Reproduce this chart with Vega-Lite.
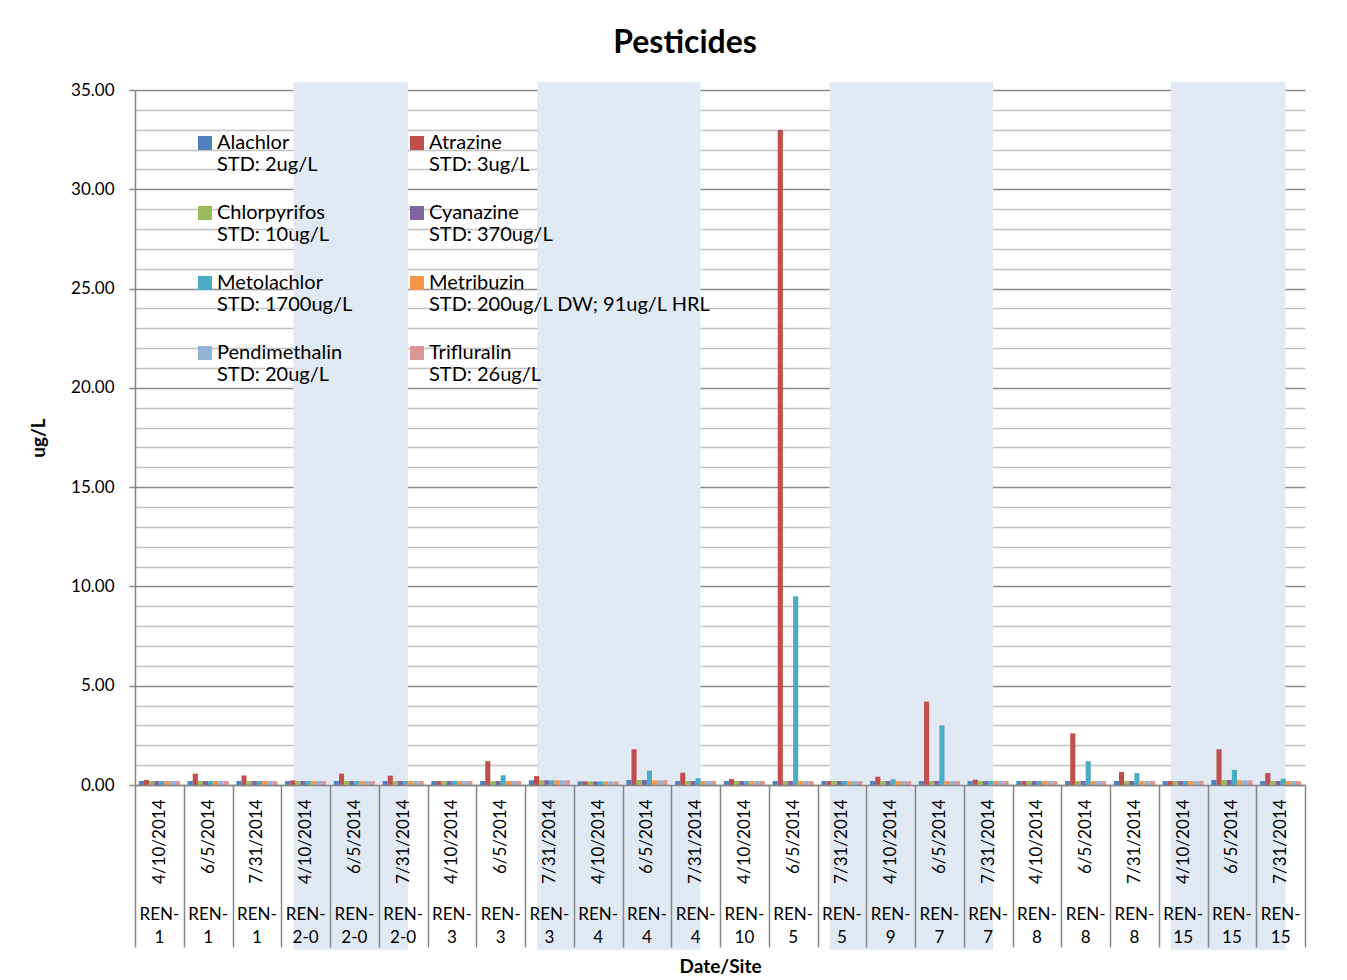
{
  "$schema": "https://vega.github.io/schema/vega-lite/v6.json",
  "width": 1170,
  "height": 695,
  "autosize": {"type": "none"},
  "padding": {"left": 135, "top": 90, "right": 42, "bottom": 195},
  "background": "white",
  "config": {"view": {"stroke": null}},
  "title": {"text": "Pesticides", "font": "Lato", "fontSize": 32, "fontWeight": "bold", "color": "black", "anchor": "middle", "dx": -35, "offset": 21},
  "datasets": {
    "bands": [
      {"s": "4/10/2014|REN-2-0", "e": "7/31/2014|REN-2-0"},
      {"s": "7/31/2014|REN-3", "e": "7/31/2014|REN-4"},
      {"s": "7/31/2014|REN-5", "e": "7/31/2014|REN-7"},
      {"s": "4/10/2014|REN-15", "e": "7/31/2014|REN-15"}
    ],
    "bars": [
      {"c": "4/10/2014|REN-1", "p": "Alachlor", "v": 0.2}, {"c": "4/10/2014|REN-1", "p": "Atrazine", "v": 0.25}, {"c": "4/10/2014|REN-1", "p": "Chlorpyrifos", "v": 0.2}, {"c": "4/10/2014|REN-1", "p": "Cyanazine", "v": 0.2}, {"c": "4/10/2014|REN-1", "p": "Metolachlor", "v": 0.2}, {"c": "4/10/2014|REN-1", "p": "Metribuzin", "v": 0.2}, {"c": "4/10/2014|REN-1", "p": "Pendimethalin", "v": 0.2}, {"c": "4/10/2014|REN-1", "p": "Trifluralin", "v": 0.2},
      {"c": "6/5/2014|REN-1", "p": "Alachlor", "v": 0.2}, {"c": "6/5/2014|REN-1", "p": "Atrazine", "v": 0.57}, {"c": "6/5/2014|REN-1", "p": "Chlorpyrifos", "v": 0.2}, {"c": "6/5/2014|REN-1", "p": "Cyanazine", "v": 0.2}, {"c": "6/5/2014|REN-1", "p": "Metolachlor", "v": 0.2}, {"c": "6/5/2014|REN-1", "p": "Metribuzin", "v": 0.2}, {"c": "6/5/2014|REN-1", "p": "Pendimethalin", "v": 0.2}, {"c": "6/5/2014|REN-1", "p": "Trifluralin", "v": 0.2},
      {"c": "7/31/2014|REN-1", "p": "Alachlor", "v": 0.2}, {"c": "7/31/2014|REN-1", "p": "Atrazine", "v": 0.48}, {"c": "7/31/2014|REN-1", "p": "Chlorpyrifos", "v": 0.2}, {"c": "7/31/2014|REN-1", "p": "Cyanazine", "v": 0.2}, {"c": "7/31/2014|REN-1", "p": "Metolachlor", "v": 0.2}, {"c": "7/31/2014|REN-1", "p": "Metribuzin", "v": 0.2}, {"c": "7/31/2014|REN-1", "p": "Pendimethalin", "v": 0.2}, {"c": "7/31/2014|REN-1", "p": "Trifluralin", "v": 0.2},
      {"c": "4/10/2014|REN-2-0", "p": "Alachlor", "v": 0.2}, {"c": "4/10/2014|REN-2-0", "p": "Atrazine", "v": 0.23}, {"c": "4/10/2014|REN-2-0", "p": "Chlorpyrifos", "v": 0.2}, {"c": "4/10/2014|REN-2-0", "p": "Cyanazine", "v": 0.2}, {"c": "4/10/2014|REN-2-0", "p": "Metolachlor", "v": 0.2}, {"c": "4/10/2014|REN-2-0", "p": "Metribuzin", "v": 0.2}, {"c": "4/10/2014|REN-2-0", "p": "Pendimethalin", "v": 0.2}, {"c": "4/10/2014|REN-2-0", "p": "Trifluralin", "v": 0.2},
      {"c": "6/5/2014|REN-2-0", "p": "Alachlor", "v": 0.2}, {"c": "6/5/2014|REN-2-0", "p": "Atrazine", "v": 0.57}, {"c": "6/5/2014|REN-2-0", "p": "Chlorpyrifos", "v": 0.2}, {"c": "6/5/2014|REN-2-0", "p": "Cyanazine", "v": 0.2}, {"c": "6/5/2014|REN-2-0", "p": "Metolachlor", "v": 0.2}, {"c": "6/5/2014|REN-2-0", "p": "Metribuzin", "v": 0.2}, {"c": "6/5/2014|REN-2-0", "p": "Pendimethalin", "v": 0.2}, {"c": "6/5/2014|REN-2-0", "p": "Trifluralin", "v": 0.2},
      {"c": "7/31/2014|REN-2-0", "p": "Alachlor", "v": 0.2}, {"c": "7/31/2014|REN-2-0", "p": "Atrazine", "v": 0.47}, {"c": "7/31/2014|REN-2-0", "p": "Chlorpyrifos", "v": 0.2}, {"c": "7/31/2014|REN-2-0", "p": "Cyanazine", "v": 0.2}, {"c": "7/31/2014|REN-2-0", "p": "Metolachlor", "v": 0.2}, {"c": "7/31/2014|REN-2-0", "p": "Metribuzin", "v": 0.2}, {"c": "7/31/2014|REN-2-0", "p": "Pendimethalin", "v": 0.2}, {"c": "7/31/2014|REN-2-0", "p": "Trifluralin", "v": 0.2},
      {"c": "4/10/2014|REN-3", "p": "Alachlor", "v": 0.2}, {"c": "4/10/2014|REN-3", "p": "Atrazine", "v": 0.2}, {"c": "4/10/2014|REN-3", "p": "Chlorpyrifos", "v": 0.2}, {"c": "4/10/2014|REN-3", "p": "Cyanazine", "v": 0.2}, {"c": "4/10/2014|REN-3", "p": "Metolachlor", "v": 0.2}, {"c": "4/10/2014|REN-3", "p": "Metribuzin", "v": 0.2}, {"c": "4/10/2014|REN-3", "p": "Pendimethalin", "v": 0.2}, {"c": "4/10/2014|REN-3", "p": "Trifluralin", "v": 0.2},
      {"c": "6/5/2014|REN-3", "p": "Alachlor", "v": 0.2}, {"c": "6/5/2014|REN-3", "p": "Atrazine", "v": 1.2}, {"c": "6/5/2014|REN-3", "p": "Chlorpyrifos", "v": 0.2}, {"c": "6/5/2014|REN-3", "p": "Cyanazine", "v": 0.2}, {"c": "6/5/2014|REN-3", "p": "Metolachlor", "v": 0.49}, {"c": "6/5/2014|REN-3", "p": "Metribuzin", "v": 0.2}, {"c": "6/5/2014|REN-3", "p": "Pendimethalin", "v": 0.2}, {"c": "6/5/2014|REN-3", "p": "Trifluralin", "v": 0.2},
      {"c": "7/31/2014|REN-3", "p": "Alachlor", "v": 0.24}, {"c": "7/31/2014|REN-3", "p": "Atrazine", "v": 0.45}, {"c": "7/31/2014|REN-3", "p": "Chlorpyrifos", "v": 0.24}, {"c": "7/31/2014|REN-3", "p": "Cyanazine", "v": 0.24}, {"c": "7/31/2014|REN-3", "p": "Metolachlor", "v": 0.24}, {"c": "7/31/2014|REN-3", "p": "Metribuzin", "v": 0.24}, {"c": "7/31/2014|REN-3", "p": "Pendimethalin", "v": 0.24}, {"c": "7/31/2014|REN-3", "p": "Trifluralin", "v": 0.24},
      {"c": "4/10/2014|REN-4", "p": "Alachlor", "v": 0.18}, {"c": "4/10/2014|REN-4", "p": "Atrazine", "v": 0.18}, {"c": "4/10/2014|REN-4", "p": "Chlorpyrifos", "v": 0.18}, {"c": "4/10/2014|REN-4", "p": "Cyanazine", "v": 0.18}, {"c": "4/10/2014|REN-4", "p": "Metolachlor", "v": 0.18}, {"c": "4/10/2014|REN-4", "p": "Metribuzin", "v": 0.18}, {"c": "4/10/2014|REN-4", "p": "Pendimethalin", "v": 0.18}, {"c": "4/10/2014|REN-4", "p": "Trifluralin", "v": 0.18},
      {"c": "6/5/2014|REN-4", "p": "Alachlor", "v": 0.25}, {"c": "6/5/2014|REN-4", "p": "Atrazine", "v": 1.8}, {"c": "6/5/2014|REN-4", "p": "Chlorpyrifos", "v": 0.25}, {"c": "6/5/2014|REN-4", "p": "Cyanazine", "v": 0.25}, {"c": "6/5/2014|REN-4", "p": "Metolachlor", "v": 0.72}, {"c": "6/5/2014|REN-4", "p": "Metribuzin", "v": 0.24}, {"c": "6/5/2014|REN-4", "p": "Pendimethalin", "v": 0.24}, {"c": "6/5/2014|REN-4", "p": "Trifluralin", "v": 0.24},
      {"c": "7/31/2014|REN-4", "p": "Alachlor", "v": 0.2}, {"c": "7/31/2014|REN-4", "p": "Atrazine", "v": 0.62}, {"c": "7/31/2014|REN-4", "p": "Chlorpyrifos", "v": 0.2}, {"c": "7/31/2014|REN-4", "p": "Cyanazine", "v": 0.2}, {"c": "7/31/2014|REN-4", "p": "Metolachlor", "v": 0.34}, {"c": "7/31/2014|REN-4", "p": "Metribuzin", "v": 0.2}, {"c": "7/31/2014|REN-4", "p": "Pendimethalin", "v": 0.2}, {"c": "7/31/2014|REN-4", "p": "Trifluralin", "v": 0.2},
      {"c": "4/10/2014|REN-10", "p": "Alachlor", "v": 0.2}, {"c": "4/10/2014|REN-10", "p": "Atrazine", "v": 0.3}, {"c": "4/10/2014|REN-10", "p": "Chlorpyrifos", "v": 0.2}, {"c": "4/10/2014|REN-10", "p": "Cyanazine", "v": 0.2}, {"c": "4/10/2014|REN-10", "p": "Metolachlor", "v": 0.2}, {"c": "4/10/2014|REN-10", "p": "Metribuzin", "v": 0.2}, {"c": "4/10/2014|REN-10", "p": "Pendimethalin", "v": 0.2}, {"c": "4/10/2014|REN-10", "p": "Trifluralin", "v": 0.2},
      {"c": "6/5/2014|REN-5", "p": "Alachlor", "v": 0.2}, {"c": "6/5/2014|REN-5", "p": "Atrazine", "v": 33.0}, {"c": "6/5/2014|REN-5", "p": "Chlorpyrifos", "v": 0.2}, {"c": "6/5/2014|REN-5", "p": "Cyanazine", "v": 0.2}, {"c": "6/5/2014|REN-5", "p": "Metolachlor", "v": 9.5}, {"c": "6/5/2014|REN-5", "p": "Metribuzin", "v": 0.2}, {"c": "6/5/2014|REN-5", "p": "Pendimethalin", "v": 0.2}, {"c": "6/5/2014|REN-5", "p": "Trifluralin", "v": 0.2},
      {"c": "7/31/2014|REN-5", "p": "Alachlor", "v": 0.2}, {"c": "7/31/2014|REN-5", "p": "Atrazine", "v": 0.2}, {"c": "7/31/2014|REN-5", "p": "Chlorpyrifos", "v": 0.2}, {"c": "7/31/2014|REN-5", "p": "Cyanazine", "v": 0.2}, {"c": "7/31/2014|REN-5", "p": "Metolachlor", "v": 0.2}, {"c": "7/31/2014|REN-5", "p": "Metribuzin", "v": 0.2}, {"c": "7/31/2014|REN-5", "p": "Pendimethalin", "v": 0.2}, {"c": "7/31/2014|REN-5", "p": "Trifluralin", "v": 0.2},
      {"c": "4/10/2014|REN-9", "p": "Alachlor", "v": 0.2}, {"c": "4/10/2014|REN-9", "p": "Atrazine", "v": 0.42}, {"c": "4/10/2014|REN-9", "p": "Chlorpyrifos", "v": 0.2}, {"c": "4/10/2014|REN-9", "p": "Cyanazine", "v": 0.2}, {"c": "4/10/2014|REN-9", "p": "Metolachlor", "v": 0.29}, {"c": "4/10/2014|REN-9", "p": "Metribuzin", "v": 0.2}, {"c": "4/10/2014|REN-9", "p": "Pendimethalin", "v": 0.2}, {"c": "4/10/2014|REN-9", "p": "Trifluralin", "v": 0.2},
      {"c": "6/5/2014|REN-7", "p": "Alachlor", "v": 0.2}, {"c": "6/5/2014|REN-7", "p": "Atrazine", "v": 4.2}, {"c": "6/5/2014|REN-7", "p": "Chlorpyrifos", "v": 0.2}, {"c": "6/5/2014|REN-7", "p": "Cyanazine", "v": 0.2}, {"c": "6/5/2014|REN-7", "p": "Metolachlor", "v": 3.0}, {"c": "6/5/2014|REN-7", "p": "Metribuzin", "v": 0.2}, {"c": "6/5/2014|REN-7", "p": "Pendimethalin", "v": 0.2}, {"c": "6/5/2014|REN-7", "p": "Trifluralin", "v": 0.2},
      {"c": "7/31/2014|REN-7", "p": "Alachlor", "v": 0.2}, {"c": "7/31/2014|REN-7", "p": "Atrazine", "v": 0.27}, {"c": "7/31/2014|REN-7", "p": "Chlorpyrifos", "v": 0.2}, {"c": "7/31/2014|REN-7", "p": "Cyanazine", "v": 0.2}, {"c": "7/31/2014|REN-7", "p": "Metolachlor", "v": 0.2}, {"c": "7/31/2014|REN-7", "p": "Metribuzin", "v": 0.2}, {"c": "7/31/2014|REN-7", "p": "Pendimethalin", "v": 0.2}, {"c": "7/31/2014|REN-7", "p": "Trifluralin", "v": 0.2},
      {"c": "4/10/2014|REN-8", "p": "Alachlor", "v": 0.2}, {"c": "4/10/2014|REN-8", "p": "Atrazine", "v": 0.2}, {"c": "4/10/2014|REN-8", "p": "Chlorpyrifos", "v": 0.2}, {"c": "4/10/2014|REN-8", "p": "Cyanazine", "v": 0.2}, {"c": "4/10/2014|REN-8", "p": "Metolachlor", "v": 0.2}, {"c": "4/10/2014|REN-8", "p": "Metribuzin", "v": 0.2}, {"c": "4/10/2014|REN-8", "p": "Pendimethalin", "v": 0.2}, {"c": "4/10/2014|REN-8", "p": "Trifluralin", "v": 0.2},
      {"c": "6/5/2014|REN-8", "p": "Alachlor", "v": 0.2}, {"c": "6/5/2014|REN-8", "p": "Atrazine", "v": 2.6}, {"c": "6/5/2014|REN-8", "p": "Chlorpyrifos", "v": 0.2}, {"c": "6/5/2014|REN-8", "p": "Cyanazine", "v": 0.2}, {"c": "6/5/2014|REN-8", "p": "Metolachlor", "v": 1.2}, {"c": "6/5/2014|REN-8", "p": "Metribuzin", "v": 0.2}, {"c": "6/5/2014|REN-8", "p": "Pendimethalin", "v": 0.2}, {"c": "6/5/2014|REN-8", "p": "Trifluralin", "v": 0.2},
      {"c": "7/31/2014|REN-8", "p": "Alachlor", "v": 0.2}, {"c": "7/31/2014|REN-8", "p": "Atrazine", "v": 0.65}, {"c": "7/31/2014|REN-8", "p": "Chlorpyrifos", "v": 0.2}, {"c": "7/31/2014|REN-8", "p": "Cyanazine", "v": 0.2}, {"c": "7/31/2014|REN-8", "p": "Metolachlor", "v": 0.6}, {"c": "7/31/2014|REN-8", "p": "Metribuzin", "v": 0.2}, {"c": "7/31/2014|REN-8", "p": "Pendimethalin", "v": 0.2}, {"c": "7/31/2014|REN-8", "p": "Trifluralin", "v": 0.2},
      {"c": "4/10/2014|REN-15", "p": "Alachlor", "v": 0.2}, {"c": "4/10/2014|REN-15", "p": "Atrazine", "v": 0.2}, {"c": "4/10/2014|REN-15", "p": "Chlorpyrifos", "v": 0.2}, {"c": "4/10/2014|REN-15", "p": "Cyanazine", "v": 0.2}, {"c": "4/10/2014|REN-15", "p": "Metolachlor", "v": 0.2}, {"c": "4/10/2014|REN-15", "p": "Metribuzin", "v": 0.2}, {"c": "4/10/2014|REN-15", "p": "Pendimethalin", "v": 0.2}, {"c": "4/10/2014|REN-15", "p": "Trifluralin", "v": 0.2},
      {"c": "6/5/2014|REN-15", "p": "Alachlor", "v": 0.25}, {"c": "6/5/2014|REN-15", "p": "Atrazine", "v": 1.8}, {"c": "6/5/2014|REN-15", "p": "Chlorpyrifos", "v": 0.25}, {"c": "6/5/2014|REN-15", "p": "Cyanazine", "v": 0.25}, {"c": "6/5/2014|REN-15", "p": "Metolachlor", "v": 0.76}, {"c": "6/5/2014|REN-15", "p": "Metribuzin", "v": 0.24}, {"c": "6/5/2014|REN-15", "p": "Pendimethalin", "v": 0.24}, {"c": "6/5/2014|REN-15", "p": "Trifluralin", "v": 0.24},
      {"c": "7/31/2014|REN-15", "p": "Alachlor", "v": 0.2}, {"c": "7/31/2014|REN-15", "p": "Atrazine", "v": 0.6}, {"c": "7/31/2014|REN-15", "p": "Chlorpyrifos", "v": 0.2}, {"c": "7/31/2014|REN-15", "p": "Cyanazine", "v": 0.2}, {"c": "7/31/2014|REN-15", "p": "Metolachlor", "v": 0.32}, {"c": "7/31/2014|REN-15", "p": "Metribuzin", "v": 0.2}, {"c": "7/31/2014|REN-15", "p": "Pendimethalin", "v": 0.2}, {"c": "7/31/2014|REN-15", "p": "Trifluralin", "v": 0.2}
    ]
  },
  "layer": [
    {
      "data": {"name": "bands"},
      "mark": {"type": "rect", "color": "#e1e9f4"},
      "encoding": {
        "x": {
          "field": "s", "type": "nominal", "bandPosition": 0.25,
          "scale": {"domain": ["4/10/2014|REN-1", "6/5/2014|REN-1", "7/31/2014|REN-1", "4/10/2014|REN-2-0", "6/5/2014|REN-2-0", "7/31/2014|REN-2-0", "4/10/2014|REN-3", "6/5/2014|REN-3", "7/31/2014|REN-3", "4/10/2014|REN-4", "6/5/2014|REN-4", "7/31/2014|REN-4", "4/10/2014|REN-10", "6/5/2014|REN-5", "7/31/2014|REN-5", "4/10/2014|REN-9", "6/5/2014|REN-7", "7/31/2014|REN-7", "4/10/2014|REN-8", "6/5/2014|REN-8", "7/31/2014|REN-8", "4/10/2014|REN-15", "6/5/2014|REN-15", "7/31/2014|REN-15"], "paddingInner": 0, "paddingOuter": 0},
          "axis": {
            "orient": "bottom",
            "labelExpr": "isValid(datum.value) ? ['REN-', replace(split(datum.value, '|')[1], 'REN-', '')] : ''",
            "labelAngle": 0, "labelAlign": "center", "labelBaseline": "top",
            "labelPadding": 121, "ticks": false, "domain": false, "grid": false,
            "labelFont": "Lato", "labelFontSize": 17, "labelLineHeight": 23, "labelColor": "black",
            "labelOverlap": false, "labelLimit": 0,
            "title": "Date/Site", "titleFont": "Lato", "titleFontSize": 19, "titleFontWeight": "bold", "titleColor": "black", "titlePadding": 12
          }
        },
        "x2": {"field": "e", "bandPosition": 0.6},
        "y": {
          "datum": 35.4, "type": "quantitative",
          "scale": {"domain": [0, 35], "nice": false, "zero": true},
          "axis": {
            "title": "ug/L", "titleFont": "Lato", "titleFontSize": 19, "titleFontWeight": "bold", "titleColor": "black", "titlePadding": 22,
            "values": [0,1,2,3,4,5,6,7,8,9,10,11,12,13,14,15,16,17,18,19,20,21,22,23,24,25,26,27,28,29,30,31,32,33,34,35],
            "labelExpr": "datum.value % 5 === 0 ? format(datum.value, '.2f') : ''",
            "labelFont": "Lato", "labelFontSize": 17, "labelColor": "black", "labelPadding": 15,
            "grid": true,
            "gridColor": {"condition": {"test": "datum.value % 5 === 0", "value": "#8c8c8c"}, "value": "#c3c3c3"},
            "gridWidth": 1.5,
            "tickSize": 6, "tickColor": "#868686", "tickWidth": 1.5,
            "tickOpacity": {"condition": {"test": "datum.value % 5 === 0", "value": 1}, "value": 0},
            "domainColor": "#868686", "domainWidth": 1.5,
            "labelOverlap": false, "labelFlush": false, "labelBound": false
          }
        },
        "y2": {"datum": -8.3}
      }
    },
    {
      "data": {"name": "bars"},
      "mark": {"type": "bar"},
      "encoding": {
        "x": {
          "field": "c", "type": "nominal",
          "scale": {"domain": ["4/10/2014|REN-1", "6/5/2014|REN-1", "7/31/2014|REN-1", "4/10/2014|REN-2-0", "6/5/2014|REN-2-0", "7/31/2014|REN-2-0", "4/10/2014|REN-3", "6/5/2014|REN-3", "7/31/2014|REN-3", "4/10/2014|REN-4", "6/5/2014|REN-4", "7/31/2014|REN-4", "4/10/2014|REN-10", "6/5/2014|REN-5", "7/31/2014|REN-5", "4/10/2014|REN-9", "6/5/2014|REN-7", "7/31/2014|REN-7", "4/10/2014|REN-8", "6/5/2014|REN-8", "7/31/2014|REN-8", "4/10/2014|REN-15", "6/5/2014|REN-15", "7/31/2014|REN-15"], "paddingInner": 0, "paddingOuter": 0},
          "axis": {
            "orient": "bottom", "zindex": 1,
            "labelExpr": "isValid(datum.value) ? split(datum.value, '|')[0] : ''",
            "labelAngle": -90, "labelAlign": "right", "labelBaseline": "middle",
            "tickBand": "extent", "tickSize": 162, "tickColor": "#868686", "tickWidth": 1.5,
            "labelPadding": -148,
            "domainColor": "#868686", "domainWidth": 1.5, "grid": false,
            "labelFont": "Lato", "labelFontSize": 17, "labelColor": "black",
            "labelOverlap": false, "labelLimit": 0,
            "title": null
          }
        },
        "xOffset": {
          "field": "p", "type": "nominal",
          "scale": {"domain": ["Alachlor", "Atrazine", "Chlorpyrifos", "Cyanazine", "Metolachlor", "Metribuzin", "Pendimethalin", "Trifluralin"], "paddingOuter": 0.75, "paddingInner": 0}
        },
        "y": {
          "field": "v", "type": "quantitative",
          "scale": {"domain": [0, 35], "nice": false, "zero": true},
          "axis": {
            "title": "ug/L", "titleFont": "Lato", "titleFontSize": 19, "titleFontWeight": "bold", "titleColor": "black", "titlePadding": 22,
            "values": [0,1,2,3,4,5,6,7,8,9,10,11,12,13,14,15,16,17,18,19,20,21,22,23,24,25,26,27,28,29,30,31,32,33,34,35],
            "labelExpr": "datum.value % 5 === 0 ? format(datum.value, '.2f') : ''",
            "labelFont": "Lato", "labelFontSize": 17, "labelColor": "black", "labelPadding": 15,
            "grid": true,
            "gridColor": {"condition": {"test": "datum.value % 5 === 0", "value": "#8c8c8c"}, "value": "#c3c3c3"},
            "gridWidth": 1.5,
            "tickSize": 6, "tickColor": "#868686", "tickWidth": 1.5,
            "tickOpacity": {"condition": {"test": "datum.value % 5 === 0", "value": 1}, "value": 0},
            "domainColor": "#868686", "domainWidth": 1.5,
            "labelOverlap": false, "labelFlush": false, "labelBound": false
          }
        },
        "color": {
          "field": "p", "type": "nominal",
          "scale": {"domain": ["Alachlor", "Atrazine", "Chlorpyrifos", "Cyanazine", "Metolachlor", "Metribuzin", "Pendimethalin", "Trifluralin"], "range": ["#4f81bd", "#c0504d", "#9bbb59", "#8064a2", "#4bacc6", "#f79646", "#95b3d7", "#d99694"]},
          "legend": {
            "orient": "none", "legendX": 60, "legendY": 43, "direction": "horizontal",
            "columns": 2, "title": null, "padding": 0,
            "symbolType": "square", "symbolSize": 196, "symbolStrokeWidth": 0, "symbolOpacity": 1,
            "labelFont": "Lato", "labelFontSize": 20, "labelColor": "black", "labelLimit": 0,
            "labelOffset": 2, "labelBaseline": "middle", "labelLineHeight": 28,
            "columnPadding": 54, "rowPadding": 28,
            "labelExpr": "[datum.label, datum.label === 'Alachlor' ? 'STD: 2ug/L' : datum.label === 'Atrazine' ? 'STD: 3ug/L' : datum.label === 'Chlorpyrifos' ? 'STD: 10ug/L' : datum.label === 'Cyanazine' ? 'STD: 370ug/L' : datum.label === 'Metolachlor' ? 'STD: 1700ug/L' : datum.label === 'Metribuzin' ? 'STD: 200ug/L DW; 91ug/L HRL' : datum.label === 'Pendimethalin' ? 'STD: 20ug/L' : 'STD: 26ug/L']"
          }
        }
      }
    }
  ],
  "resolve": {"axis": {"x": "independent"}}
}
